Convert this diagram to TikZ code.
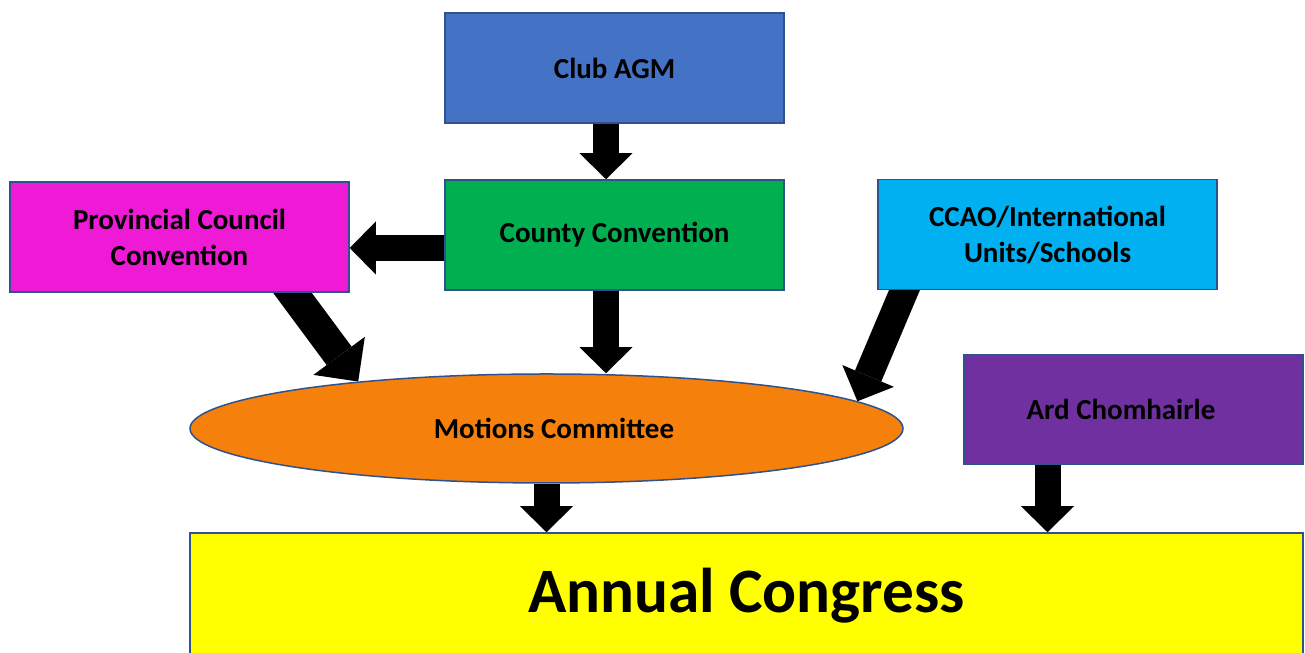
\documentclass[tikz,border=0pt]{standalone}
\usepackage{fontspec}
\setmainfont{Carlito}
\usepackage{tikz}
\usetikzlibrary{arrows.meta,shapes.geometric,backgrounds}
\definecolor{clubblue}{RGB}{68,114,196}
\definecolor{countygreen}{RGB}{0,176,80}
\definecolor{provpink}{RGB}{238,26,214}
\definecolor{ccaocyan}{RGB}{0,176,240}
\definecolor{ardpurple}{RGB}{112,48,160}
\definecolor{motorange}{RGB}{245,128,12}
\definecolor{congyellow}{RGB}{255,255,0}
\definecolor{edgeblue}{RGB}{47,82,143}

\begin{document}
\begin{tikzpicture}[
	box/.style={draw=edgeblue, line width=0.03cm, inner sep=0pt, minimum width=6.78cm, minimum height=2.2cm, align=center, font=\fontsize{16.5}{20.5}\selectfont\bfseries},
	blk/.style={line width=0.52cm, -{Triangle[width=1.06cm,length=0.52cm,line width=0pt]}},
	blkwide/.style={line width=0.62cm, -{Triangle[width=1.28cm,length=0.64cm,line width=0pt]}},
	blkcc/.style={line width=0.57cm, -{Triangle[width=1.12cm,length=0.55cm,line width=0pt]}}
	]
	\useasboundingbox (0,0) rectangle (26.1,13.06);
	
	\node[box, fill=clubblue] (club) at (12.29,11.70) {Club AGM};
	\node[box, fill=countygreen] (county) at (12.29,8.36) {County Convention};
	\node[box, fill=provpink] (prov) at (3.59,8.32) {Provincial Council\\Convention};
	\node[box, fill=ccaocyan] (ccao) at (20.95,8.37) {CCAO/International\\Units/Schools};
	\node[box, fill=ardpurple] (ard) at (22.67,4.87) {Ard Chomhairle\hspace{0.5cm}};
	\node[box, ellipse, fill=motorange, minimum width=14.26cm, minimum height=2.18cm] (mot) at (10.93,4.49) {\hspace{0.3cm}Motions Committee};
	\node[box, fill=congyellow, minimum width=22.26cm, minimum height=2.52cm, font=\fontsize{36}{40}\selectfont\bfseries] (cong) at (14.93,1.14) {Annual Congress};
	
	\begin{pgfonlayer}{background}
	\draw[blk] ([xshift=-0.17cm]club.south) -- ([xshift=-0.17cm]county.north);
	\draw[blk] ([yshift=-0.26cm]county.west) -- ([yshift=-0.26cm]county.west -| prov.east);
	\draw[blk] ([xshift=-0.17cm]county.south) -- ([xshift=-0.17cm]county.south |- mot.north);
	\draw[blkwide] ([xshift=2.02cm,yshift=0.32cm]prov.south) -- (mot.166);
	\draw[blkcc] ([xshift=-2.71cm,yshift=0.36cm]ccao.south) -- (mot.5.8);
	\draw[blk] (mot.south) -- (mot.south |- cong.north);
	\draw[blk] ([xshift=-1.72cm]ard.south) -- ([xshift=-1.72cm]ard.south |- cong.north);
	\end{pgfonlayer}
	
\end{tikzpicture}
\end{document}
